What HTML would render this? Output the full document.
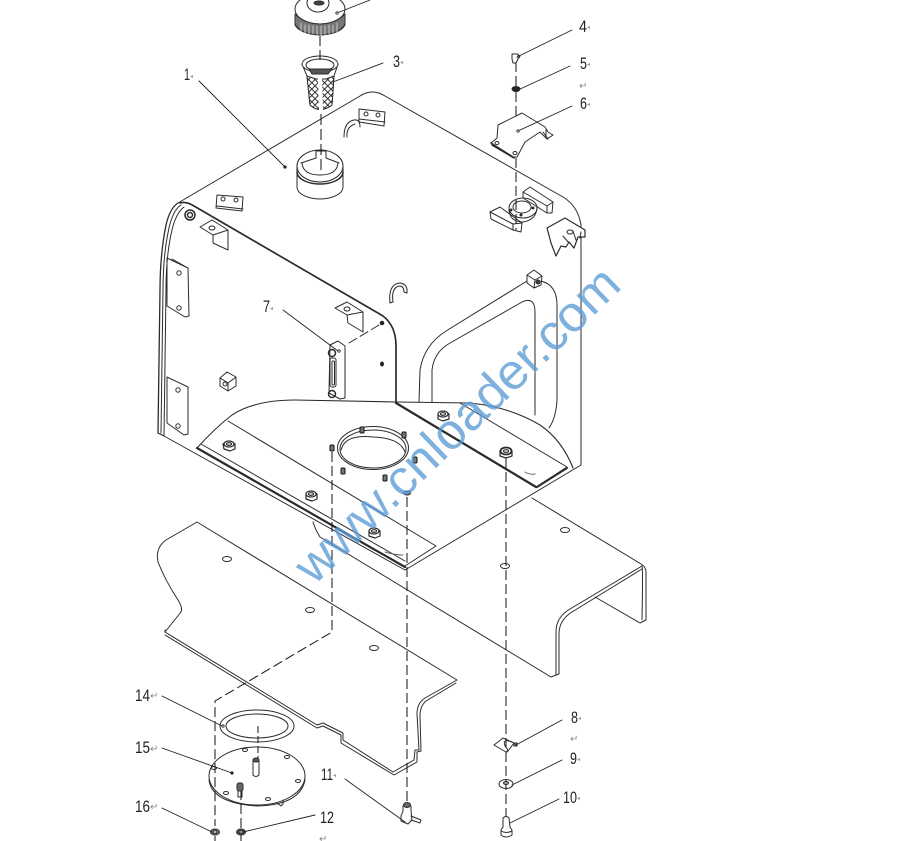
<!DOCTYPE html>
<html>
<head>
<meta charset="utf-8">
<style>
html,body{margin:0;padding:0;background:#fff;}
svg{display:block;}
text{font-family:"Liberation Sans",sans-serif;}
.l{font-size:17px;fill:#222;}
.r{font-size:10px;fill:#888;}
.m{font-size:6px;fill:#999;}
</style>
</head>
<body>
<svg width="911" height="841" viewBox="0 0 911 841" xmlns="http://www.w3.org/2000/svg">
<defs>
<pattern id="mesh" width="4.500" height="4.500" patternUnits="userSpaceOnUse" patternTransform="rotate(45 0 0)">
<rect width="4.500" height="4.500" fill="#fff"/>
<rect width="4.500" height="4.500" fill="none" stroke="#333" stroke-width="1"/>
</pattern>
</defs>
<rect width="911" height="841" fill="#fff"/>
<g fill="none" stroke="#2b2b2b" stroke-width="1" stroke-linejoin="round" stroke-linecap="round">
<!-- tank outline -->
<path d="M178,203 L360,96 Q372,88 385,96 L563,197 Q578,206 581,225 L581,465"/>
<path d="M405,570 L581,465"/>
<path d="M158,433 L160,290 Q160,255 166,225 Q170,208 178,203" stroke-width="1.300"/>
<path d="M161,433 L163,290 Q163,255 169,228 Q173,210 181,205"/>
<path d="M164,436 L166,290 Q166,255 172,230 Q176,213 184,207"/>
<path d="M158,433 L164,436 L405,570"/>
<path d="M180,203 Q186,201 194,206 L383,316 Q396,326 396,346 L396,402" stroke-width="1.700"/>
<!-- floor curve -->
<path d="M197,448 Q215,428 232,415 Q255,400 295,400 L396,402 L470,403 Q510,407 540,425 Q562,440 573,468" stroke-width="1.100"/>
<!-- strips -->
<path d="M197,448 L405,567" stroke-width="2.200"/>
<path d="M201,444 L405,561"/>
<path d="M228,421 L436,546 L405,566"/>
<path d="M396,403 L536,487" stroke-width="2.200"/>
<path d="M460,403 L567,467 L536,487" stroke-width="1"/>
<path d="M537,487 L567,468" stroke-width="2"/>
<path d="M525,472 Q530,475 535,474" stroke="#666"/>
<path d="M385,552 Q395,555 403,555" stroke="#666"/>
<path d="M313,522 Q316,531 320,537 L551,677"/>
<!-- window -->
<path d="M419,402 L420,370 Q424,345 446,331 L527,281"/>
<path d="M541,281 Q557,285 557,305 L557,400 Q556,418 549,428"/>
<path d="M432,402 L432,370 Q434,352 450,343 L522,302 Q535,296 535,312 L535,415"/>
<!-- channel -->
<path d="M532,498 L641,564 Q646,567 646,572 L646,620 L640,623 L595,597"/>
<path d="M642,566 L570,609 Q556,617 556,632 L556,675 L551,677" stroke-width="1"/>
<path d="M642,569 L572,612 Q559,620 559,634 L559,674 L556,675" stroke-width="1"/>
<path d="M642,566 Q643,568 642,620"/>
<!-- lower plate -->
<path d="M197,522 L457,680 L425,698 Q417,703 417,714 L419,750 L415,750 L414,760 L393,772 L343,740 L343,733 L323,723 L317,725 L165,632 L181,612 Q183,608 178,600 Q165,580 158,562 Q155,548 166,540 Z"/>
<path d="M165,630 L165,632 M456,683 L426,701 Q420,706 420,716 L421,751 L417,752 L417,762 L394,775 L341,743 L341,735 L323,726 L317,728 L165,635" stroke-width="1"/>
<ellipse cx="227" cy="559" rx="4.500" ry="2.500"/>
<ellipse cx="310" cy="610" rx="4.500" ry="2.500"/>
<ellipse cx="374" cy="648" rx="4.500" ry="2.500"/>
<ellipse cx="505" cy="566" rx="4.500" ry="2.500"/>
<ellipse cx="565" cy="530" rx="4.500" ry="2.500"/>
<!-- side blocks -->
<path d="M167,258 L188,268 L189,316 L185,317 L167,306 Z M172,259 L188,268"/>
<circle cx="179" cy="273" r="2.200"/><circle cx="179" cy="308" r="2.200"/>
<path d="M167,377 L188,387 L188,434 L184,435 L167,423 Z"/>
<circle cx="178" cy="390" r="2.200"/><circle cx="178" cy="426" r="2.200"/>
<circle cx="190" cy="215" r="5" stroke-width="1.500"/><circle cx="190" cy="215" r="2.500" stroke-width="1.500"/>
<path d="M200,227 L212,220 L228,230 L228,250 L213,243 L213,235 Z M213,235 L228,230"/>
<ellipse cx="212" cy="228" rx="3" ry="2"/>
<path d="M217,195 L243,197 L242,211 L216,208 Z M217,206 L243,209"/>
<circle cx="223" cy="199" r="2"/><circle cx="236" cy="200" r="2"/>
<path d="M220,378 L227,372 L236,377 L236,386 L228,391 L220,386 Z M220,378 L228,383 L236,377 M228,383 L228,391"/>
<circle cx="225" cy="384" r="2"/>
<!-- top block & hook -->
<path d="M359,109 L385,112 L384,126 L359,122 Z M359,119 L385,122"/>
<circle cx="366" cy="114" r="2"/><circle cx="378" cy="115" r="2"/>
<path d="M344,137 Q344,122 354,120 Q360,119 360,127 M347,137 Q346,127 355,124"/>
<!-- collar -->
<ellipse cx="320" cy="166" rx="23" ry="16"/>
<path d="M297,166 L297,187 A23,12 0 0 0 343,187 L343,166"/>
<path d="M297,172 A23,12 0 0 0 343,172" stroke-width="1.500"/>
<path d="M301,163 L316,158 L316,151 L326,151 L326,158 L339,163"/>
<path d="M302,163 Q303,175 320,175 Q337,175 338,163"/>
<!-- cap -->
<path d="M295,14 L295,25 Q300,34 320,35 Q340,34 345,25 L345,14"/>
<ellipse cx="320" cy="9" rx="25" ry="15" fill="#fff"/>
<ellipse cx="318" cy="3" rx="11" ry="9" fill="#fff"/>
<ellipse cx="319" cy="3" rx="5" ry="2" fill="#444"/>
<path d="M295,24 Q300,34 320,35 Q340,34 345,24 L345,14 Q335,24 320,24 Q305,24 295,14 Z" fill="#777" stroke="#333"/>
<path d="M301,23 V32 M305,25 V33 M309,25 V34 M313,26 V34 M317,26 V35 M321,26 V35 M325,26 V35 M329,25 V34 M333,25 V33 M337,23 V32" stroke="#ddd" stroke-width="0.800"/>
<!-- strainer -->
<path d="M302,64 L307,76 L310,105 Q320,114 332,105 L334,76 L338,64"/>
<path d="M307,76 L310,105 Q320,114 332,105 L334,76 L326,79 L316,79 Z" fill="url(#mesh)"/>
<path d="M318,78 L319,112 L323,112 L322,78 Z" fill="#fff" stroke="none"/>
<ellipse cx="320" cy="64" rx="18" ry="8" fill="#fff"/>
<ellipse cx="320" cy="65" rx="14" ry="6"/>
<path d="M309,69 L332,69 L328,74 L312,74 Z" fill="#555"/>
<!-- right bracket -->
<path d="M491,143 L497,138 L498,125 L522,113 L545,127 L548,132 L553,135 L547,139 L540,132 L525,142 L517,157 L513,157 Z" fill="#fff"/>
<path d="M491,143 L513,157 M492,145 L514,158" stroke-width="1.500"/>
<ellipse cx="497" cy="143" rx="2" ry="1.500"/><ellipse cx="515" cy="153" rx="2" ry="1.500"/>
<path d="M546,130 L546,137 M543,132 L548,139"/>
<!-- ring and blocks -->
<path d="M490,212 L500,207 L522,223 L521,232 L513,230 L491,219 Z M490,212 L491,219 M490,212 L513,224 L522,223 M513,224 L513,230"/>
<path d="M523,192 L530,187 L553,202 L552,213 L547,213 L523,198 Z M523,192 L547,206 L553,202 M547,206 L547,213"/>
<ellipse cx="523" cy="208" rx="14" ry="10"/>
<ellipse cx="522" cy="207" rx="9" ry="6"/>
<path d="M509,210 Q510,222 523,222 Q536,220 537,208"/>
<circle cx="521" cy="215" r="1" fill="#222"/><circle cx="533" cy="208" r="1" fill="#222"/><circle cx="511" cy="210" r="1" fill="#222"/>
<!-- right corner bracket -->
<path d="M547,228 L565,218 L585,230 L585,237 L578,237 L574,248 L569,242 L566,247 L561,246 L556,256 L551,243 Z" fill="#fff" stroke-width="1.200"/>
<path d="M573,231 L576,240 M563,236 L569,243 M581,232 L580,238"/>
<ellipse cx="570" cy="232" rx="3" ry="2"/>
<!-- cube top right -->
<path d="M527,275 L534,270 L542,276 L541,285 L534,288 L527,283 Z M527,275 L535,280 L542,276 M535,280 L534,288"/>
<circle cx="538" cy="282" r="2" fill="#444"/>
<!-- hook -->
<path d="M390,303 Q388,284 400,283 Q408,284 407,293 L404,292 Q404,286 399,286 Q391,288 393,302 Z"/>
<!-- inner bracket -->
<path d="M335,308 L347,302 L363,312 L363,332 L348,323 L347,315 Z M347,315 L363,312"/>
<ellipse cx="347" cy="309" rx="3" ry="2"/>
<!-- gauge -->
<path d="M330,345 L338,341 L345,346 L345,398 L340,399 L329,393 Z"/>
<rect x="330" y="358" width="6" height="29" rx="2"/>
<rect x="332" y="361" width="2.500" height="24" rx="1"/>
<circle cx="332" cy="353" r="3.500" stroke-width="1.500"/><circle cx="332" cy="394" r="3.500" stroke-width="1.500"/>
<circle cx="382" cy="323" r="1.800" fill="#222"/><ellipse cx="382" cy="364" rx="1.500" ry="2" fill="#222"/>
<path d="M349,343 L379,325" stroke-dasharray="9 4"/>
<!-- port hole -->
<ellipse cx="373" cy="448" rx="35.500" ry="21.500"/>
<ellipse cx="373" cy="449" rx="33" ry="19"/>
<path d="M341,450 Q345,434 373,437 Q400,438 405,452"/>
<!-- nuts -->
<g fill="#fff" stroke-width="1.200">
<path d="M223,444 L224,449 L230,451 L235,449 L235,444 Q229,439 223,444 Z"/><ellipse cx="229" cy="444" rx="5" ry="3"/><ellipse cx="229" cy="444" rx="2.500" ry="1.300"/>
<path d="M306,494 L306,499 L312,501 L317,499 L317,494 Q311,489 306,494 Z"/><ellipse cx="311" cy="494" rx="5" ry="3"/><ellipse cx="311" cy="494" rx="2.500" ry="1.300"/>
<path d="M369,531 L369,536 L375,538 L380,536 L380,531 Q374,526 369,531 Z"/><ellipse cx="374" cy="531" rx="5" ry="3"/><ellipse cx="374" cy="531" rx="2.500" ry="1.300"/>
<path d="M438,414 L438,419 L443,421 L449,419 L449,414 Q443,409 438,414 Z"/><ellipse cx="443" cy="414" rx="5" ry="3"/><ellipse cx="443" cy="414" rx="2.500" ry="1.300"/>
<path d="M500,451 L500,456 L506,458 L512,456 L512,451 Q506,446 500,451 Z"/><ellipse cx="506" cy="451" rx="5.500" ry="3.500" stroke-width="1.800"/><ellipse cx="506" cy="451" rx="2.500" ry="1.300"/>
</g>
<!-- small studs -->
<g fill="#777" stroke="#111">
<rect x="360" y="427" width="4" height="6" rx="1"/>
<rect x="402" y="432" width="4" height="6" rx="1"/>
<rect x="413" y="457" width="4" height="6" rx="1"/>
<rect x="383" y="475" width="4" height="6" rx="1"/>
<rect x="341" y="468" width="4" height="6" rx="1"/>
<rect x="330" y="445" width="4" height="6" rx="1"/>
</g>
<ellipse cx="407" cy="493" rx="3.500" ry="2" fill="#888"/>
<!-- dashed assembly lines -->
<g stroke="#111" stroke-width="1" stroke-dasharray="10 4" stroke-linecap="butt">
<path d="M320,36 V62"/>
<path d="M321,114 V170" stroke-dasharray="11 4"/>
<path d="M516,62 V86 M516,92 V118 M516,158 V230"/>
<path d="M332,452 V632 L215,701 V826"/>
<path d="M407,497 V802"/>
<path d="M506,458 V818"/>
<path d="M258,726 V760" stroke-dasharray="7 3"/>
<path d="M241,790 V841"/>
<path d="M215,836 V841"/>
</g>
<!-- gasket -->
<ellipse cx="257" cy="726" rx="37" ry="16"/>
<ellipse cx="257" cy="726" rx="31" ry="12"/>
<!-- cover plate -->
<ellipse cx="257" cy="776" rx="48" ry="29"/>
<path d="M209,780 Q212,803 257,806 Q300,805 305,780"/>
<ellipse cx="245" cy="750" rx="2.500" ry="1.500"/><ellipse cx="287" cy="757" rx="2.500" ry="1.500"/>
<ellipse cx="298" cy="781" rx="2.500" ry="1.500"/><ellipse cx="268" cy="799" rx="2.500" ry="1.500"/>
<ellipse cx="226" cy="793" rx="2.500" ry="1.500"/><ellipse cx="214" cy="768" rx="2.500" ry="1.500"/>
<path d="M253,760 V775 Q256,778 259,775 V760"/>
<ellipse cx="256" cy="760" rx="3" ry="2" fill="#555"/>
<path d="M277,803 L281,806 L283,804 L283,800"/>
<rect x="237" y="783" width="6" height="8" rx="2" fill="#666"/>
<path d="M238,791 V797 H242 V791"/>
<!-- washers -->
<ellipse cx="215" cy="832" rx="4.500" ry="3" fill="#777"/><ellipse cx="215" cy="832" rx="2" ry="1.200" fill="#fff"/>
<ellipse cx="241" cy="832" rx="4.500" ry="3" fill="#555"/><ellipse cx="241" cy="832" rx="2" ry="1.200" fill="#ccc"/>
<ellipse cx="516" cy="89" rx="4" ry="2.500" fill="#222"/>
<path d="M512,54 H518 V59 L516,63 L513,63 L512,59 Z M518,55 L520,56 L519,58" fill="#fff"/>
<!-- item 8 -->
<path d="M494,745 L503,738 L514,743 L508,751 L506,752 Z"/>
<path d="M512,742 Q502,738 505,746 Q509,750 507,752"/>
<rect x="514" y="743" width="3" height="3" fill="#777"/>
<!-- item 9 -->
<ellipse cx="506" cy="784" rx="7" ry="4.500"/><ellipse cx="506" cy="783" rx="2.500" ry="1.500" fill="#999"/>
<!-- item 10 -->
<path d="M503,818 Q506,815 509,818 L510,827 L512,830 L512,835 Q506,839 501,835 L501,830 L503,827 Z" fill="#fff"/>
<path d="M501,831 Q506,834 512,831"/>
<!-- item 11 -->
<ellipse cx="407" cy="805" rx="3.500" ry="2.500" fill="#666"/>
<path d="M403,806 V811 L401,816 L401,821 L408,824 L412,820 L411,811 V806"/>
<path d="M411,816 L421,820 L420,823 L411,820"/>
<!-- leaders -->
<g stroke="#222" stroke-width="0.900">
<path d="M199,81 L285,167"/>
<path d="M370,0 L337,13"/>
<path d="M383,63 L333,82"/>
<path d="M572,30 L517,57"/>
<path d="M570,66 L518,90"/>
<path d="M572,106 L518,131"/>
<path d="M283,310 L338,351"/>
<path d="M562,720 L516,745"/>
<path d="M562,760 L512,785"/>
<path d="M559,799 L510,823"/>
<path d="M345,779 L405,822"/>
<path d="M315,815 L243,832"/>
<path d="M162,696 L222,726"/>
<path d="M162,748 L232,773"/>
<path d="M162,808 L212,832"/>
</g>
<g fill="#fff" stroke="#222" stroke-width="0.800">
<circle cx="285" cy="167" r="1.200" fill="#222"/><circle cx="337" cy="13" r="1.200"/><circle cx="518" cy="131" r="1.200"/>
<circle cx="339" cy="351" r="1.200"/><circle cx="232" cy="773" r="1.200" fill="#222"/><circle cx="223" cy="726" r="1.200"/>
</g>
</g>
<!-- labels -->
<g>
<text class="l" x="184" y="80" textLength="6" lengthAdjust="spacingAndGlyphs">1</text>
<text class="l" x="393" y="67" textLength="7" lengthAdjust="spacingAndGlyphs">3</text>
<text class="l" x="579" y="32" textLength="8" lengthAdjust="spacingAndGlyphs">4</text>
<text class="l" x="580" y="69" textLength="7" lengthAdjust="spacingAndGlyphs">5</text>
<text class="l" x="580" y="109" textLength="7" lengthAdjust="spacingAndGlyphs">6</text>
<text class="l" x="263" y="312" textLength="7" lengthAdjust="spacingAndGlyphs">7</text>
<text class="l" x="571" y="723" textLength="7" lengthAdjust="spacingAndGlyphs">8</text>
<text class="l" x="570" y="764" textLength="7" lengthAdjust="spacingAndGlyphs">9</text>
<text class="l" x="563" y="803" textLength="14" lengthAdjust="spacingAndGlyphs">10</text>
<text class="l" x="321" y="780" textLength="12" lengthAdjust="spacingAndGlyphs">11</text>
<text class="l" x="320" y="823" textLength="14" lengthAdjust="spacingAndGlyphs">12</text>
<text class="l" x="135" y="701" textLength="15" lengthAdjust="spacingAndGlyphs">14</text>
<text class="l" x="135" y="753" textLength="15" lengthAdjust="spacingAndGlyphs">15</text>
<text class="l" x="135" y="812" textLength="15" lengthAdjust="spacingAndGlyphs">16</text>
</g>
<g>
<text class="m" x="190" y="78">◂</text>
<text class="m" x="400" y="64">◂</text>
<text class="m" x="587" y="29">◂</text>
<text class="m" x="587" y="66">◂</text>
<text class="m" x="587" y="106">◂</text>
<text class="m" x="270" y="310">◂</text>
<text class="m" x="578" y="720">◂</text>
<text class="m" x="577" y="761">◂</text>
<text class="m" x="577" y="800">◂</text>
<text class="m" x="333" y="777">◂</text>
<text class="r" x="579" y="89">↵</text>
<text class="r" x="570" y="742">↵</text>
<text class="r" x="319" y="842">↵</text>
<text class="r" x="150" y="699">↵</text>
<text class="r" x="150" y="752">↵</text>
<text class="r" x="150" y="810">↵</text>
</g>
<!-- watermark -->
<text x="314" y="586" transform="rotate(-44 314 586)" font-size="50" fill="#5b9bd5" fill-opacity="0.78" textLength="430" lengthAdjust="spacingAndGlyphs" style="font-family:'Liberation Sans',sans-serif;">www.cnloader.com</text>
</svg>
</body>
</html>
